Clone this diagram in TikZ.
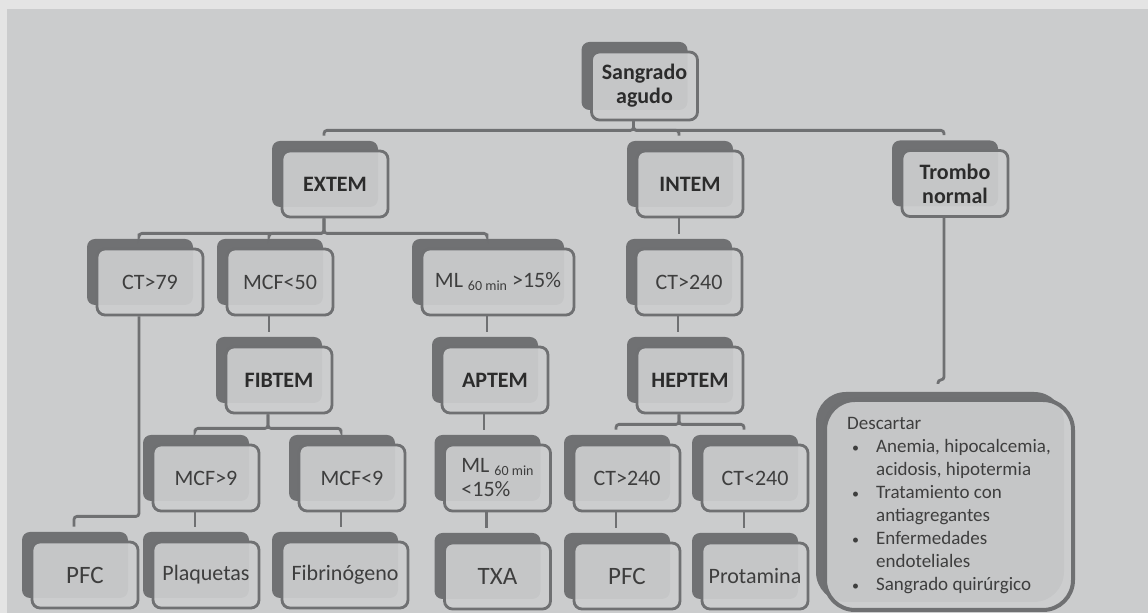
\documentclass[tikz,border=0pt]{standalone}
\usepackage{fontspec}
\setmainfont{Carlito}
\usetikzlibrary{shadows}
\definecolor{bgray}{HTML}{CBCCCD}
\definecolor{edgegray}{HTML}{E4E4E4}
\definecolor{boxfill}{HTML}{CDCECF}
\definecolor{boxline}{HTML}{6F7072}
\definecolor{shadegray}{HTML}{707173}
\definecolor{txtgray}{HTML}{3E3E3E}
\definecolor{txtdark}{HTML}{2C2C2C}
\tikzset{every node/.style={font=\fontsize{11}{12}\selectfont, text=txtgray}}
\newcommand{\mlsub}[1]{{\fontsize{7}{8}\selectfont\raisebox{-1.5pt}{#1}}}
\newcommand{\dotitem}{\hspace{2.5pt}{\fontsize{7}{8}\selectfont\textbullet}}

\begin{document}
\begin{tikzpicture}[x=0.5pt, y=-0.5pt,
  base/.style={draw=boxline, line width=1.4pt, fill=boxfill, fill opacity=0.92, text opacity=1, align=center},
  box/.style={base, rounded corners=4pt, minimum width=53pt, minimum height=33pt, inner sep=2pt,
    general shadow={fill=shadegray, fill opacity=1, shadow xshift=-5pt, shadow yshift=5pt}},
  hbox/.style={box, font=\bfseries\fontsize{11}{12}\selectfont, text=txtdark},
  bigtext/.style={font=\fontsize{12.5}{14}\selectfont},
  notebox/.style={base, rounded corners=15pt, line width=2pt, minimum width=124pt, minimum height=105pt,
    align=left, font=\fontsize{9.5}{11.5}\selectfont,
    general shadow={fill=shadegray, fill opacity=1, shadow xshift=-4.5pt, shadow yshift=4pt}},
  link/.style={draw=boxline, line width=1.4pt, rounded corners=1.5pt}]
  \useasboundingbox (0,0) rectangle (1148,613);
  \fill[edgegray] (0,0) rectangle (1148,613);
  \fill[bgray] (7,9) rectangle (1148,613);

  % boxes
  \node[hbox, minimum height=34pt] (sang) at (644.5,86) {Sangrado\\agudo};
  \node[hbox] (extem) at (335,184) {EXTEM};
  \node[hbox] (intem) at (690,184) {INTEM};
  \node[hbox] (trombo) at (955,183.5) {Trombo\\normal};
  \node[box] (ct79) at (150,282) {CT>79};
  \node[box] (mcf50) at (280,282) {MCF<50};
  \node[box, minimum width=76pt] (mlhigh) at (498,282) {ML \mlsub{60 min} >15\%};
  \node[box] (ctint) at (689,282) {CT>240};
  \node[hbox] (fibtem) at (279,380) {FIBTEM};
  \node[hbox] (aptem) at (495,380) {APTEM};
  \node[hbox] (heptem) at (690,380) {HEPTEM};
  \node[box] (mcfhigh) at (206,478) {MCF>9};
  \node[box] (mcflow) at (352,478) {MCF<9};
  \node[box, align=left] (mllow) at (497.5,478) {ML \mlsub{60 min}\\<15\%};
  \node[box] (cthigh) at (627,478) {CT>240};
  \node[box] (ctlow) at (755,478) {CT<240};
  \node[box, bigtext] (pfcext) at (85,575) {PFC};
  \node[box] (plaq) at (206,575) {Plaquetas};
  \node[box, minimum width=63pt] (fibri) at (345,575) {Fibrinógeno};
  \node[box, bigtext] (txa) at (497.5,576) {TXA};
  \node[box, bigtext] (pfchep) at (627,576) {PFC};
  \node[box, inner sep=0pt] (prot) at (755,576) {Protamina};
  \node[notebox] (desc) at (949,505) {%
    \begin{tabular}{@{}p{14.5pt}@{}l@{}}
      \multicolumn{2}{@{}l@{}}{Descartar}\\
      \dotitem & Anemia, hipocalcemia,\\
       & acidosis, hipotermia\\
      \dotitem & Tratamiento con\\
       & antiagregantes\\
      \dotitem & Enfermedades\\
       & endoteliales\\
      \dotitem & Sangrado quirúrgico
    \end{tabular}};

  % stems left of centre, as the shadows sit
  \foreach \n in {sang,extem,intem,trombo,ct79,mcf50,mlhigh,ctint,fibtem,aptem,heptem,
                  mcfhigh,mcflow,mllow,cthigh,ctlow,pfcext,plaq,fibri,txa,pfchep,prot,desc} {
    \coordinate (\n-t) at ([xshift=-5.5pt,yshift=7pt]\n.north);
    \coordinate (\n-b) at ([xshift=-5.5pt]\n.south);
  }

  % connectors
  \foreach \c in {extem,intem,trombo} \draw[link] (sang-b) -- ++(0,9) -| (\c-t);
  \foreach \c in {ct79,mcf50,mlhigh} \draw[link] (extem-b) -- ++(0,15) -| (\c-t);
  \foreach \c in {mcfhigh,mcflow} \draw[link] (fibtem-b) -- ++(0,14) -| (\c-t);
  \foreach \c in {cthigh,ctlow} \draw[link] (heptem-b) -- ++(0,10) -| (\c-t);
  \draw[link] (ct79-b) -- ++(0,200) -| (pfcext-t);
  \draw[link] (trombo-b) -- ++(0,162) -| (desc-t);
  \foreach \p/\c in {intem/ctint, ctint/heptem, mcf50/fibtem, mlhigh/aptem, aptem/mllow,
                     mcfhigh/plaq, mcflow/fibri, mllow/txa, cthigh/pfchep, ctlow/prot}
    \draw[link] (\p-b) -- (\p-b |- \c-t);
\end{tikzpicture}
\end{document}
